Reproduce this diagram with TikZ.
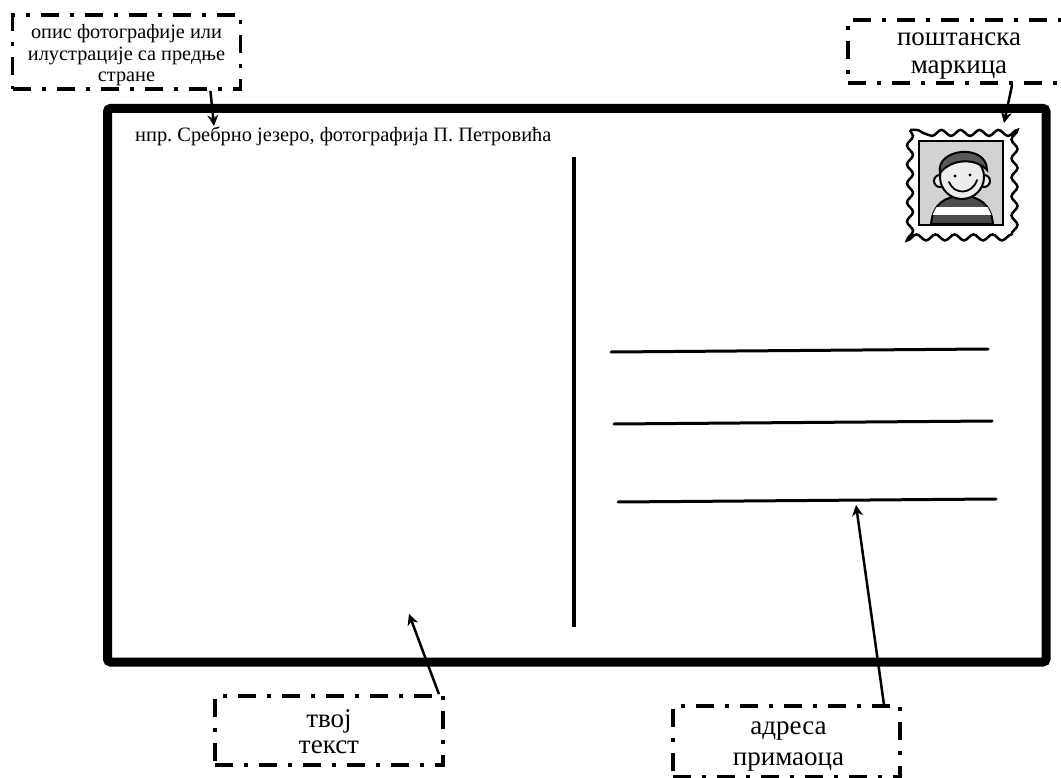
\documentclass[tikz,border=0pt]{standalone}
\usepackage{fontspec}
\setmainfont{Liberation Serif}
\usetikzlibrary{positioning, calc, arrows.meta, decorations.pathmorphing}

\tikzset{
    labelbox/.style={draw, line width=3.8pt,
        dash pattern=on 18pt off 11pt on 4pt off 11pt,
        minimum width=228pt, inner sep=0pt},
    labeltext/.style={align=center, inner sep=0pt},
    pointer/.style={line width=2.5pt, -{Stealth[length=11pt, width=11pt]}},
    addrline/.style={line width=3pt, line cap=round},
}

\begin{document}
\frenchspacing
\begin{tikzpicture}[x=1pt, y=-1pt]
    \useasboundingbox (0,0) rectangle (1061,778);

    % Card outline and divider
    \draw[line width=9pt, rounded corners=3pt] (107.5,108.5) rectangle (1046,662);
    \draw[line width=4pt] (574,157) -- (574,627);

    % Address lines
    \draw[addrline] (611,352) -- (988,349);
    \draw[addrline] (614,424) -- (992,421);
    \draw[addrline] (618,502) -- (996,499);

    \node[anchor=base west, inner sep=0, font=\fontsize{20.4}{24}\selectfont]
        (caption) at (135,142) {нпр. Сребрно језеро, фотографија П. Петровића};

    % Stamp
    \draw[line width=2.5pt, decorate,
        decoration={snake, segment length=19pt, amplitude=3pt}]
        (910,130) rectangle (1014,235);
    \draw[line width=2.5pt, fill=gray!35] (919,141) rectangle (1003,225);
    \draw[line width=2pt, fill=black!70] (931,224)
        .. controls (933,204) and (945,196) .. (962,196)
        .. controls (979,196) and (991,204) .. (993,224) -- cycle;
    \begin{scope}
        \clip (931,224) .. controls (933,204) and (945,196) .. (962,196)
            .. controls (979,196) and (991,204) .. (993,224) -- cycle;
        \fill[white] (925,207) rectangle (1000,215);
    \end{scope}
    \draw[line width=2pt, fill=gray!15] (940,181) circle (6);
    \draw[line width=2pt, fill=gray!15] (984,181) circle (6);
    \draw[line width=2pt, fill=gray!15] (962,177) circle (22);
    \draw[line width=2pt, fill=black!65] (940,173)
        .. controls (935,148) and (987,143) .. (987,170)
        .. controls (976,158) and (952,158) .. cycle;
    \draw[line width=1.8pt, line cap=round] (949,182)
        .. controls (954,195) and (972,195) .. (977,180);
    \fill (955,176) circle (1.6);
    \fill (970,175) circle (1.6);

    % Label boxes
    \node[labelbox, minimum height=74pt] (photodesc) at (126.5,52) {};
    \node[labelbox, minimum height=63pt, minimum width=222pt] (stampdesc) at (959,51.5) {};
    \node[labelbox, minimum height=69pt] (yourtext) at (329,730.5) {};
    \node[labelbox, minimum height=71pt, minimum width=227pt] (recipient) at (786.5,741.5) {};

    \node[labeltext, font=\fontsize{20.3}{21.5}\selectfont] at ([yshift=-3.5pt]photodesc.center)
        {опис фотографије или\\илустрације са предње\\стране};
    \node[labeltext, font=\fontsize{27}{28}\selectfont] at ([yshift=-4.3pt]stampdesc.center)
        {поштанска\\маркица};
    \node[labeltext, font=\fontsize{27}{26}\selectfont] at ([yshift=-1.5pt]yourtext.center)
        {твој\\текст};
    \node[labeltext, font=\fontsize{27}{31}\selectfont] at ([yshift=-4.8pt, xshift=2pt]recipient.center)
        {адреса\\примаоца};

    % Pointers
    \coordinate (phototip) at (214,126);
    \coordinate (stamptip) at (1004,123);
    \coordinate (texttip) at (409,614);
    \coordinate (addrtip) at (856,505);
    \draw[pointer] ([xshift=-32pt]photodesc.south east) -- (phototip);
    \draw[pointer] ([xshift=166pt]stampdesc.south west) -- (stamptip);
    \draw[pointer] ([xshift=-6pt]yourtext.north east) -- (texttip);
    \draw[pointer] ([xshift=-18pt]recipient.north east) -- (addrtip);
\end{tikzpicture}
\end{document}
